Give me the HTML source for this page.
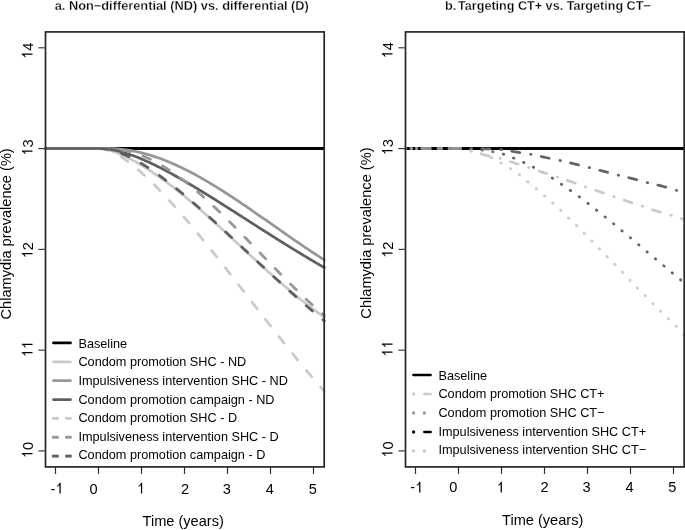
<!DOCTYPE html>
<html><head><meta charset="utf-8"><style>
html,body{margin:0;padding:0;background:#fff;overflow:hidden;}
svg{display:block;font-family:"Liberation Sans", sans-serif;will-change:transform;}
</style></head><body>
<svg width="685" height="530" viewBox="0 0 685 530">
<rect width="685" height="530" fill="#fff"/>
<line x1="45.5" y1="148.5" x2="324.2" y2="148.5" stroke="#000" stroke-width="2.9"/>
<path d="M45.50,148.50 L98.50,148.50 L99.92,148.54 L101.34,148.65 L102.76,148.82 L104.18,149.04 L105.60,149.31 L107.02,149.63 L108.44,149.99 L109.86,150.39 L111.28,150.82 L112.69,151.28 L114.11,151.76 L115.53,152.28 L116.95,152.82 L118.37,153.38 L119.79,153.97 L121.21,154.58 L122.63,155.21 L124.05,155.86 L125.47,156.52 L126.89,157.21 L128.31,157.91 L129.73,158.63 L131.15,159.36 L132.57,160.11 L133.99,160.88 L135.41,161.66 L136.83,162.46 L138.25,163.27 L139.67,164.10 L141.08,164.94 L142.50,165.79 L143.92,166.66 L145.34,167.54 L146.76,168.43 L148.18,169.34 L149.60,170.26 L151.02,171.19 L152.44,172.14 L153.86,173.09 L155.28,174.06 L156.70,175.04 L158.12,176.03 L159.54,177.03 L160.96,178.04 L162.38,179.07 L163.80,180.10 L165.22,181.14 L166.64,182.20 L168.06,183.26 L169.47,184.33 L170.89,185.42 L172.31,186.51 L173.73,187.61 L175.15,188.72 L176.57,189.84 L177.99,190.97 L179.41,192.10 L180.83,193.25 L182.25,194.40 L183.67,195.56 L185.09,196.73 L186.51,197.90 L187.93,199.09 L189.35,200.28 L190.77,201.47 L192.19,202.68 L193.61,203.89 L195.03,205.10 L196.45,206.32 L197.86,207.55 L199.28,208.78 L200.70,210.02 L202.12,211.27 L203.54,212.52 L204.96,213.77 L206.38,215.03 L207.80,216.29 L209.22,217.56 L210.64,218.83 L212.06,220.11 L213.48,221.39 L214.90,222.67 L216.32,223.96 L217.74,225.25 L219.16,226.54 L220.58,227.84 L222.00,229.13 L223.42,230.43 L224.84,231.74 L226.25,233.04 L227.67,234.35 L229.09,235.66 L230.51,236.97 L231.93,238.28 L233.35,239.59 L234.77,240.90 L236.19,242.22 L237.61,243.53 L239.03,244.85 L240.45,246.16 L241.87,247.48 L243.29,248.79 L244.71,250.11 L246.13,251.42 L247.55,252.73 L248.97,254.04 L250.39,255.35 L251.81,256.66 L253.23,257.97 L254.64,259.28 L256.06,260.58 L257.48,261.88 L258.90,263.18 L260.32,264.48 L261.74,265.77 L263.16,267.06 L264.58,268.35 L266.00,269.63 L267.42,270.91 L268.84,272.19 L270.26,273.46 L271.68,274.73 L273.10,276.00 L274.52,277.26 L275.94,278.51 L277.36,279.76 L278.78,281.01 L280.20,282.25 L281.62,283.49 L283.03,284.72 L284.45,285.94 L285.87,287.16 L287.29,288.37 L288.71,289.57 L290.13,290.77 L291.55,291.96 L292.97,293.15 L294.39,294.33 L295.81,295.50 L297.23,296.66 L298.65,297.82 L300.07,298.96 L301.49,300.10 L302.91,301.23 L304.33,302.36 L305.75,303.47 L307.17,304.57 L308.59,305.67 L310.01,306.76 L311.42,307.83 L312.84,308.90 L314.26,309.96 L315.68,311.00 L317.10,312.04 L318.52,313.07 L319.94,314.08 L321.36,315.09 L322.78,316.08 L324.20,317.07" fill="none" stroke="#cacaca" stroke-width="2.73" stroke-linecap="round" stroke-linejoin="round" />
<path d="M45.50,148.50 L98.50,148.50 L99.92,148.50 L101.34,148.50 L102.76,148.50 L104.18,148.50 L105.60,148.50 L107.02,148.51 L108.44,148.53 L109.86,148.56 L111.28,148.61 L112.69,148.66 L114.11,148.73 L115.53,148.81 L116.95,148.90 L118.37,149.01 L119.79,149.13 L121.21,149.27 L122.63,149.42 L124.05,149.58 L125.47,149.76 L126.89,149.96 L128.31,150.17 L129.73,150.39 L131.15,150.63 L132.57,150.88 L133.99,151.15 L135.41,151.43 L136.83,151.73 L138.25,152.04 L139.67,152.36 L141.08,152.70 L142.50,153.05 L143.92,153.42 L145.34,153.80 L146.76,154.19 L148.18,154.60 L149.60,155.02 L151.02,155.45 L152.44,155.90 L153.86,156.36 L155.28,156.83 L156.70,157.31 L158.12,157.81 L159.54,158.32 L160.96,158.84 L162.38,159.37 L163.80,159.92 L165.22,160.47 L166.64,161.04 L168.06,161.62 L169.47,162.21 L170.89,162.81 L172.31,163.42 L173.73,164.04 L175.15,164.68 L176.57,165.32 L177.99,165.98 L179.41,166.64 L180.83,167.31 L182.25,168.00 L183.67,168.69 L185.09,169.39 L186.51,170.11 L187.93,170.83 L189.35,171.56 L190.77,172.30 L192.19,173.05 L193.61,173.80 L195.03,174.57 L196.45,175.34 L197.86,176.12 L199.28,176.91 L200.70,177.71 L202.12,178.52 L203.54,179.33 L204.96,180.15 L206.38,180.98 L207.80,181.81 L209.22,182.65 L210.64,183.50 L212.06,184.35 L213.48,185.22 L214.90,186.08 L216.32,186.96 L217.74,187.84 L219.16,188.72 L220.58,189.61 L222.00,190.51 L223.42,191.41 L224.84,192.32 L226.25,193.23 L227.67,194.15 L229.09,195.07 L230.51,196.00 L231.93,196.93 L233.35,197.87 L234.77,198.81 L236.19,199.75 L237.61,200.70 L239.03,201.65 L240.45,202.60 L241.87,203.56 L243.29,204.53 L244.71,205.49 L246.13,206.46 L247.55,207.43 L248.97,208.40 L250.39,209.38 L251.81,210.36 L253.23,211.34 L254.64,212.32 L256.06,213.30 L257.48,214.29 L258.90,215.28 L260.32,216.27 L261.74,217.26 L263.16,218.25 L264.58,219.24 L266.00,220.24 L267.42,221.23 L268.84,222.23 L270.26,223.22 L271.68,224.22 L273.10,225.21 L274.52,226.21 L275.94,227.20 L277.36,228.20 L278.78,229.19 L280.20,230.19 L281.62,231.18 L283.03,232.17 L284.45,233.16 L285.87,234.15 L287.29,235.14 L288.71,236.13 L290.13,237.11 L291.55,238.09 L292.97,239.08 L294.39,240.05 L295.81,241.03 L297.23,242.00 L298.65,242.98 L300.07,243.94 L301.49,244.91 L302.91,245.87 L304.33,246.83 L305.75,247.79 L307.17,248.74 L308.59,249.69 L310.01,250.63 L311.42,251.57 L312.84,252.51 L314.26,253.44 L315.68,254.37 L317.10,255.29 L318.52,256.21 L319.94,257.12 L321.36,258.03 L322.78,258.93 L324.20,259.83" fill="none" stroke="#979797" stroke-width="2.73" stroke-linecap="round" stroke-linejoin="round" />
<path d="M45.50,148.50 L98.50,148.50 L99.92,148.52 L101.34,148.56 L102.76,148.63 L104.18,148.74 L105.60,148.87 L107.02,149.02 L108.44,149.20 L109.86,149.41 L111.28,149.64 L112.69,149.89 L114.11,150.16 L115.53,150.46 L116.95,150.78 L118.37,151.12 L119.79,151.47 L121.21,151.85 L122.63,152.24 L124.05,152.66 L125.47,153.08 L126.89,153.53 L128.31,153.99 L129.73,154.47 L131.15,154.97 L132.57,155.47 L133.99,156.00 L135.41,156.53 L136.83,157.08 L138.25,157.64 L139.67,158.22 L141.08,158.81 L142.50,159.41 L143.92,160.02 L145.34,160.64 L146.76,161.27 L148.18,161.92 L149.60,162.57 L151.02,163.23 L152.44,163.90 L153.86,164.59 L155.28,165.28 L156.70,165.98 L158.12,166.68 L159.54,167.40 L160.96,168.12 L162.38,168.85 L163.80,169.59 L165.22,170.34 L166.64,171.09 L168.06,171.85 L169.47,172.62 L170.89,173.39 L172.31,174.17 L173.73,174.95 L175.15,175.74 L176.57,176.54 L177.99,177.34 L179.41,178.14 L180.83,178.95 L182.25,179.77 L183.67,180.59 L185.09,181.41 L186.51,182.24 L187.93,183.08 L189.35,183.91 L190.77,184.75 L192.19,185.60 L193.61,186.45 L195.03,187.30 L196.45,188.16 L197.86,189.01 L199.28,189.88 L200.70,190.74 L202.12,191.61 L203.54,192.48 L204.96,193.35 L206.38,194.23 L207.80,195.10 L209.22,195.98 L210.64,196.87 L212.06,197.75 L213.48,198.64 L214.90,199.53 L216.32,200.42 L217.74,201.31 L219.16,202.20 L220.58,203.10 L222.00,203.99 L223.42,204.89 L224.84,205.79 L226.25,206.69 L227.67,207.59 L229.09,208.49 L230.51,209.40 L231.93,210.30 L233.35,211.21 L234.77,212.11 L236.19,213.02 L237.61,213.92 L239.03,214.83 L240.45,215.74 L241.87,216.64 L243.29,217.55 L244.71,218.46 L246.13,219.37 L247.55,220.27 L248.97,221.18 L250.39,222.09 L251.81,223.00 L253.23,223.90 L254.64,224.81 L256.06,225.72 L257.48,226.62 L258.90,227.53 L260.32,228.43 L261.74,229.34 L263.16,230.24 L264.58,231.14 L266.00,232.04 L267.42,232.95 L268.84,233.84 L270.26,234.74 L271.68,235.64 L273.10,236.54 L274.52,237.43 L275.94,238.33 L277.36,239.22 L278.78,240.11 L280.20,241.00 L281.62,241.89 L283.03,242.77 L284.45,243.66 L285.87,244.54 L287.29,245.42 L288.71,246.30 L290.13,247.18 L291.55,248.05 L292.97,248.93 L294.39,249.80 L295.81,250.67 L297.23,251.54 L298.65,252.40 L300.07,253.26 L301.49,254.12 L302.91,254.98 L304.33,255.84 L305.75,256.69 L307.17,257.54 L308.59,258.39 L310.01,259.24 L311.42,260.08 L312.84,260.92 L314.26,261.76 L315.68,262.59 L317.10,263.42 L318.52,264.25 L319.94,265.08 L321.36,265.90 L322.78,266.72 L324.20,267.53" fill="none" stroke="#5f5f5f" stroke-width="2.73" stroke-linecap="round" stroke-linejoin="round" />
<path d="M98.50,148.50 L99.92,148.54 L101.34,148.67 L102.76,148.88 L104.18,149.16 L105.60,149.51 L107.02,149.92 L108.44,150.40 L109.86,150.93 L111.28,151.52 L112.69,152.15 L114.11,152.84 L115.53,153.57 L116.95,154.34 L118.37,155.15 L119.79,156.01 L121.21,156.89 L122.63,157.82 L124.05,158.77 L125.47,159.76 L126.89,160.78 L128.31,161.82 L129.73,162.89 L131.15,163.99 L132.57,165.12 L133.99,166.27 L135.41,167.44 L136.83,168.63 L138.25,169.84 L139.67,171.08 L141.08,172.33 L142.50,173.61 L143.92,174.90 L145.34,176.21 L146.76,177.54 L148.18,178.88 L149.60,180.24 L151.02,181.62 L152.44,183.01 L153.86,184.41 L155.28,185.83 L156.70,187.27 L158.12,188.72 L159.54,190.18 L160.96,191.65 L162.38,193.14 L163.80,194.64 L165.22,196.15 L166.64,197.67 L168.06,199.21 L169.47,200.75 L170.89,202.31 L172.31,203.87 L173.73,205.45 L175.15,207.03 L176.57,208.63 L177.99,210.24 L179.41,211.85 L180.83,213.48 L182.25,215.11 L183.67,216.75 L185.09,218.40 L186.51,220.06 L187.93,221.72 L189.35,223.40 L190.77,225.08 L192.19,226.77 L193.61,228.46 L195.03,230.17 L196.45,231.88 L197.86,233.59 L199.28,235.32 L200.70,237.05 L202.12,238.78 L203.54,240.52 L204.96,242.27 L206.38,244.02 L207.80,245.78 L209.22,247.54 L210.64,249.31 L212.06,251.08 L213.48,252.85 L214.90,254.63 L216.32,256.42 L217.74,258.21 L219.16,260.00 L220.58,261.80 L222.00,263.60 L223.42,265.40 L224.84,267.21 L226.25,269.02 L227.67,270.83 L229.09,272.64 L230.51,274.46 L231.93,276.28 L233.35,278.10 L234.77,279.92 L236.19,281.75 L237.61,283.58 L239.03,285.40 L240.45,287.23 L241.87,289.06 L243.29,290.89 L244.71,292.72 L246.13,294.56 L247.55,296.39 L248.97,298.22 L250.39,300.05 L251.81,301.89 L253.23,303.72 L254.64,305.55 L256.06,307.38 L257.48,309.21 L258.90,311.04 L260.32,312.87 L261.74,314.69 L263.16,316.52 L264.58,318.34 L266.00,320.16 L267.42,321.98 L268.84,323.79 L270.26,325.61 L271.68,327.42 L273.10,329.23 L274.52,331.03 L275.94,332.84 L277.36,334.64 L278.78,336.43 L280.20,338.22 L281.62,340.01 L283.03,341.79 L284.45,343.57 L285.87,345.35 L287.29,347.12 L288.71,348.89 L290.13,350.65 L291.55,352.41 L292.97,354.16 L294.39,355.90 L295.81,357.64 L297.23,359.38 L298.65,361.11 L300.07,362.83 L301.49,364.55 L302.91,366.25 L304.33,367.96 L305.75,369.65 L307.17,371.34 L308.59,373.03 L310.01,374.70 L311.42,376.37 L312.84,378.03 L314.26,379.68 L315.68,381.33 L317.10,382.96 L318.52,384.59 L319.94,386.21 L321.36,387.82 L322.78,389.42 L324.20,391.02" fill="none" stroke="#cacaca" stroke-width="2.73" stroke-linecap="round" stroke-linejoin="round" stroke-dasharray="8.19 13.65" stroke-dashoffset="19.51"/>
<path d="M98.50,148.50 L99.92,148.50 L101.34,148.50 L102.76,148.50 L104.18,148.50 L105.60,148.50 L107.02,148.52 L108.44,148.56 L109.86,148.61 L111.28,148.68 L112.69,148.77 L114.11,148.88 L115.53,149.01 L116.95,149.16 L118.37,149.34 L119.79,149.53 L121.21,149.75 L122.63,150.00 L124.05,150.26 L125.47,150.55 L126.89,150.86 L128.31,151.20 L129.73,151.56 L131.15,151.94 L132.57,152.35 L133.99,152.77 L135.41,153.22 L136.83,153.70 L138.25,154.19 L139.67,154.71 L141.08,155.25 L142.50,155.82 L143.92,156.40 L145.34,157.00 L146.76,157.63 L148.18,158.28 L149.60,158.95 L151.02,159.63 L152.44,160.34 L153.86,161.07 L155.28,161.82 L156.70,162.59 L158.12,163.37 L159.54,164.18 L160.96,165.00 L162.38,165.84 L163.80,166.70 L165.22,167.58 L166.64,168.48 L168.06,169.39 L169.47,170.32 L170.89,171.27 L172.31,172.23 L173.73,173.21 L175.15,174.21 L176.57,175.22 L177.99,176.25 L179.41,177.29 L180.83,178.35 L182.25,179.42 L183.67,180.50 L185.09,181.60 L186.51,182.72 L187.93,183.85 L189.35,184.99 L190.77,186.14 L192.19,187.31 L193.61,188.49 L195.03,189.68 L196.45,190.89 L197.86,192.10 L199.28,193.33 L200.70,194.57 L202.12,195.82 L203.54,197.08 L204.96,198.35 L206.38,199.63 L207.80,200.92 L209.22,202.22 L210.64,203.53 L212.06,204.85 L213.48,206.18 L214.90,207.51 L216.32,208.86 L217.74,210.21 L219.16,211.57 L220.58,212.94 L222.00,214.32 L223.42,215.70 L224.84,217.09 L226.25,218.48 L227.67,219.89 L229.09,221.29 L230.51,222.71 L231.93,224.13 L233.35,225.55 L234.77,226.98 L236.19,228.41 L237.61,229.85 L239.03,231.29 L240.45,232.74 L241.87,234.19 L243.29,235.64 L244.71,237.10 L246.13,238.56 L247.55,240.02 L248.97,241.48 L250.39,242.95 L251.81,244.41 L253.23,245.88 L254.64,247.35 L256.06,248.82 L257.48,250.29 L258.90,251.77 L260.32,253.24 L261.74,254.71 L263.16,256.18 L264.58,257.65 L266.00,259.12 L267.42,260.59 L268.84,262.06 L270.26,263.52 L271.68,264.98 L273.10,266.45 L274.52,267.90 L275.94,269.36 L277.36,270.81 L278.78,272.26 L280.20,273.71 L281.62,275.15 L283.03,276.59 L284.45,278.02 L285.87,279.45 L287.29,280.87 L288.71,282.29 L290.13,283.70 L291.55,285.11 L292.97,286.51 L294.39,287.91 L295.81,289.30 L297.23,290.68 L298.65,292.06 L300.07,293.42 L301.49,294.78 L302.91,296.14 L304.33,297.48 L305.75,298.82 L307.17,300.14 L308.59,301.46 L310.01,302.77 L311.42,304.07 L312.84,305.36 L314.26,306.64 L315.68,307.91 L317.10,309.17 L318.52,310.42 L319.94,311.66 L321.36,312.89 L322.78,314.10 L324.20,315.30" fill="none" stroke="#979797" stroke-width="2.73" stroke-linecap="round" stroke-linejoin="round" stroke-dasharray="8.19 13.65" stroke-dashoffset="20.08"/>
<path d="M98.50,148.50 L99.92,148.52 L101.34,148.59 L102.76,148.69 L104.18,148.84 L105.60,149.03 L107.02,149.25 L108.44,149.51 L109.86,149.80 L111.28,150.13 L112.69,150.49 L114.11,150.89 L115.53,151.31 L116.95,151.76 L118.37,152.25 L119.79,152.76 L121.21,153.30 L122.63,153.86 L124.05,154.45 L125.47,155.06 L126.89,155.70 L128.31,156.36 L129.73,157.05 L131.15,157.75 L132.57,158.48 L133.99,159.23 L135.41,160.00 L136.83,160.78 L138.25,161.59 L139.67,162.41 L141.08,163.25 L142.50,164.11 L143.92,164.99 L145.34,165.88 L146.76,166.78 L148.18,167.71 L149.60,168.64 L151.02,169.59 L152.44,170.56 L153.86,171.54 L155.28,172.53 L156.70,173.53 L158.12,174.55 L159.54,175.58 L160.96,176.61 L162.38,177.67 L163.80,178.73 L165.22,179.80 L166.64,180.88 L168.06,181.98 L169.47,183.08 L170.89,184.19 L172.31,185.31 L173.73,186.44 L175.15,187.58 L176.57,188.73 L177.99,189.89 L179.41,191.05 L180.83,192.22 L182.25,193.40 L183.67,194.58 L185.09,195.78 L186.51,196.98 L187.93,198.18 L189.35,199.39 L190.77,200.61 L192.19,201.84 L193.61,203.07 L195.03,204.30 L196.45,205.54 L197.86,206.79 L199.28,208.04 L200.70,209.29 L202.12,210.55 L203.54,211.82 L204.96,213.09 L206.38,214.36 L207.80,215.64 L209.22,216.92 L210.64,218.20 L212.06,219.49 L213.48,220.78 L214.90,222.07 L216.32,223.37 L217.74,224.67 L219.16,225.97 L220.58,227.27 L222.00,228.58 L223.42,229.89 L224.84,231.20 L226.25,232.52 L227.67,233.83 L229.09,235.15 L230.51,236.47 L231.93,237.79 L233.35,239.11 L234.77,240.43 L236.19,241.75 L237.61,243.08 L239.03,244.40 L240.45,245.73 L241.87,247.05 L243.29,248.38 L244.71,249.70 L246.13,251.03 L247.55,252.36 L248.97,253.68 L250.39,255.01 L251.81,256.34 L253.23,257.66 L254.64,258.99 L256.06,260.31 L257.48,261.63 L258.90,262.95 L260.32,264.28 L261.74,265.59 L263.16,266.91 L264.58,268.23 L266.00,269.55 L267.42,270.86 L268.84,272.17 L270.26,273.48 L271.68,274.79 L273.10,276.10 L274.52,277.40 L275.94,278.70 L277.36,280.00 L278.78,281.30 L280.20,282.59 L281.62,283.88 L283.03,285.17 L284.45,286.45 L285.87,287.74 L287.29,289.01 L288.71,290.29 L290.13,291.56 L291.55,292.83 L292.97,294.10 L294.39,295.36 L295.81,296.61 L297.23,297.87 L298.65,299.12 L300.07,300.36 L301.49,301.60 L302.91,302.84 L304.33,304.07 L305.75,305.29 L307.17,306.52 L308.59,307.73 L310.01,308.95 L311.42,310.15 L312.84,311.36 L314.26,312.55 L315.68,313.74 L317.10,314.93 L318.52,316.11 L319.94,317.28 L321.36,318.45 L322.78,319.62 L324.20,320.77" fill="none" stroke="#5f5f5f" stroke-width="2.73" stroke-linecap="round" stroke-linejoin="round" stroke-dasharray="8.19 13.65" stroke-dashoffset="19.96"/>
<line x1="405.5" y1="148.5" x2="684.2" y2="148.5" stroke="#000" stroke-width="2.9"/>
<path d="M405.50,148.50 L465.00,148.50 L466.38,148.54 L467.76,148.60 L469.14,148.68 L470.51,148.77 L471.89,148.87 L473.27,148.99 L474.65,149.12 L476.03,149.27 L477.41,149.42 L478.79,149.59 L480.16,149.76 L481.54,149.95 L482.92,150.14 L484.30,150.34 L485.68,150.54 L487.06,150.75 L488.44,150.97 L489.82,151.18 L491.19,151.41 L492.57,151.63 L493.95,151.86 L495.33,152.13 L496.71,152.42 L498.09,152.74 L499.47,153.08 L500.84,153.45 L502.22,153.83 L503.60,154.23 L504.98,154.66 L506.36,155.14 L507.74,155.65 L509.12,156.19 L510.49,156.75 L511.87,157.32 L513.25,157.89 L514.63,158.46 L516.01,159.03 L517.39,159.62 L518.77,160.22 L520.14,160.83 L521.52,161.45 L522.90,162.08 L524.28,162.72 L525.66,163.38 L527.04,164.04 L528.42,164.72 L529.79,165.41 L531.17,166.10 L532.55,166.81 L533.93,167.52 L535.31,168.24 L536.69,168.96 L538.07,169.70 L539.45,170.44 L540.82,171.20 L542.20,171.97 L543.58,172.76 L544.96,173.57 L546.34,174.39 L547.72,175.23 L549.10,176.08 L550.47,176.94 L551.85,177.82 L553.23,178.71 L554.61,179.62 L555.99,180.55 L557.37,181.49 L558.75,182.44 L560.12,183.39 L561.50,184.34 L562.88,185.29 L564.26,186.23 L565.64,187.19 L567.02,188.14 L568.40,189.10 L569.77,190.06 L571.15,191.03 L572.53,192.00 L573.91,192.97 L575.29,193.94 L576.67,194.92 L578.05,195.91 L579.43,196.92 L580.80,197.94 L582.18,198.96 L583.56,200.00 L584.94,201.05 L586.32,202.10 L587.70,203.17 L589.08,204.24 L590.45,205.32 L591.83,206.41 L593.21,207.51 L594.59,208.60 L595.97,209.70 L597.35,210.79 L598.73,211.88 L600.10,212.96 L601.48,214.05 L602.86,215.14 L604.24,216.23 L605.62,217.34 L607.00,218.45 L608.38,219.56 L609.75,220.68 L611.13,221.81 L612.51,222.94 L613.89,224.07 L615.27,225.22 L616.65,226.38 L618.03,227.55 L619.41,228.71 L620.78,229.87 L622.16,231.02 L623.54,232.14 L624.92,233.26 L626.30,234.37 L627.68,235.48 L629.06,236.61 L630.43,237.74 L631.81,238.91 L633.19,240.08 L634.57,241.27 L635.95,242.47 L637.33,243.65 L638.71,244.83 L640.08,246.00 L641.46,247.17 L642.84,248.32 L644.22,249.48 L645.60,250.64 L646.98,251.80 L648.36,252.96 L649.73,254.12 L651.11,255.29 L652.49,256.45 L653.87,257.61 L655.25,258.76 L656.63,259.90 L658.01,261.03 L659.38,262.16 L660.76,263.29 L662.14,264.43 L663.52,265.57 L664.90,266.72 L666.28,267.88 L667.66,269.04 L669.04,270.20 L670.41,271.37 L671.79,272.53 L673.17,273.68 L674.55,274.84 L675.93,275.99 L677.31,277.14 L678.69,278.29 L680.06,279.44 L681.44,280.58 L682.82,281.73 L684.20,282.87" fill="none" stroke="#646464" stroke-width="2.73" stroke-linecap="round" stroke-linejoin="round" stroke-dasharray="0.50 10.42" stroke-dashoffset="0.01"/>
<path d="M405.50,148.50 L460.00,148.50 L461.41,148.64 L462.82,148.82 L464.23,149.03 L465.64,149.28 L467.05,149.55 L468.46,149.85 L469.87,150.19 L471.28,150.54 L472.69,150.93 L474.10,151.33 L475.51,151.76 L476.92,152.21 L478.33,152.68 L479.74,153.16 L481.15,153.66 L482.56,154.18 L483.97,154.71 L485.38,155.24 L486.79,155.79 L488.20,156.35 L489.61,156.91 L491.02,157.48 L492.43,158.07 L493.84,158.74 L495.25,159.50 L496.66,160.31 L498.07,161.16 L499.48,162.02 L500.89,162.86 L502.30,163.68 L503.71,164.51 L505.12,165.34 L506.53,166.19 L507.94,167.05 L509.35,167.94 L510.76,168.84 L512.17,169.77 L513.58,170.71 L514.99,171.68 L516.40,172.67 L517.81,173.68 L519.22,174.72 L520.63,175.79 L522.04,176.90 L523.45,178.05 L524.86,179.21 L526.27,180.39 L527.68,181.56 L529.09,182.72 L530.50,183.89 L531.91,185.06 L533.32,186.24 L534.73,187.42 L536.14,188.60 L537.55,189.78 L538.96,190.95 L540.37,192.13 L541.78,193.31 L543.19,194.50 L544.60,195.72 L546.01,196.96 L547.42,198.22 L548.83,199.50 L550.24,200.79 L551.65,202.07 L553.06,203.35 L554.47,204.60 L555.88,205.85 L557.29,207.10 L558.70,208.36 L560.11,209.66 L561.52,211.00 L562.93,212.41 L564.34,213.86 L565.75,215.32 L567.16,216.77 L568.57,218.17 L569.98,219.52 L571.39,220.84 L572.81,222.14 L574.22,223.44 L575.63,224.76 L577.04,226.12 L578.45,227.51 L579.86,228.91 L581.27,230.33 L582.68,231.76 L584.09,233.18 L585.50,234.60 L586.91,236.03 L588.32,237.46 L589.73,238.89 L591.14,240.32 L592.55,241.76 L593.96,243.20 L595.37,244.65 L596.78,246.10 L598.19,247.55 L599.60,249.00 L601.01,250.45 L602.42,251.90 L603.83,253.35 L605.24,254.80 L606.65,256.24 L608.06,257.66 L609.47,259.07 L610.88,260.48 L612.29,261.88 L613.70,263.29 L615.11,264.71 L616.52,266.14 L617.93,267.57 L619.34,269.01 L620.75,270.47 L622.16,271.94 L623.57,273.45 L624.98,275.00 L626.39,276.56 L627.80,278.12 L629.21,279.66 L630.62,281.17 L632.03,282.67 L633.44,284.16 L634.85,285.62 L636.26,287.06 L637.67,288.46 L639.08,289.81 L640.49,291.11 L641.90,292.40 L643.31,293.70 L644.72,295.03 L646.13,296.43 L647.54,297.87 L648.95,299.34 L650.36,300.83 L651.77,302.32 L653.18,303.79 L654.59,305.25 L656.00,306.71 L657.41,308.17 L658.82,309.61 L660.23,311.03 L661.64,312.42 L663.05,313.80 L664.46,315.16 L665.87,316.50 L667.28,317.84 L668.69,319.16 L670.10,320.44 L671.51,321.69 L672.92,322.95 L674.33,324.24 L675.74,325.62 L677.15,327.14 L678.56,328.83 L679.97,330.62 L681.38,332.37 L682.79,333.99 L684.20,335.39" fill="none" stroke="#cacaca" stroke-width="2.73" stroke-linecap="round" stroke-linejoin="round" stroke-dasharray="0.50 10.42" stroke-dashoffset="0.11"/>
<path d="M405.50,148.50 L470.00,148.50 L471.35,148.50 L472.69,148.51 L474.04,148.52 L475.39,148.54 L476.74,148.56 L478.08,148.59 L479.43,148.62 L480.78,148.65 L482.12,148.69 L483.47,148.73 L484.82,148.77 L486.17,148.82 L487.51,148.88 L488.86,148.93 L490.21,148.99 L491.55,149.06 L492.90,149.12 L494.25,149.19 L495.60,149.26 L496.94,149.34 L498.29,149.42 L499.64,149.50 L500.98,149.58 L502.33,149.68 L503.68,149.82 L505.03,150.00 L506.37,150.21 L507.72,150.45 L509.07,150.70 L510.42,150.96 L511.76,151.23 L513.11,151.49 L514.46,151.75 L515.80,151.99 L517.15,152.20 L518.50,152.41 L519.85,152.61 L521.19,152.81 L522.54,153.00 L523.89,153.20 L525.23,153.40 L526.58,153.60 L527.93,153.81 L529.28,154.03 L530.62,154.27 L531.97,154.52 L533.32,154.78 L534.66,155.06 L536.01,155.35 L537.36,155.65 L538.71,155.95 L540.05,156.26 L541.40,156.57 L542.75,156.87 L544.09,157.17 L545.44,157.47 L546.79,157.75 L548.14,158.03 L549.48,158.31 L550.83,158.59 L552.18,158.86 L553.52,159.14 L554.87,159.42 L556.22,159.70 L557.57,159.99 L558.91,160.28 L560.26,160.58 L561.61,160.88 L562.95,161.19 L564.30,161.50 L565.65,161.81 L567.00,162.13 L568.34,162.44 L569.69,162.76 L571.04,163.08 L572.38,163.40 L573.73,163.73 L575.08,164.06 L576.43,164.39 L577.77,164.72 L579.12,165.05 L580.47,165.38 L581.82,165.72 L583.16,166.06 L584.51,166.39 L585.86,166.73 L587.20,167.07 L588.55,167.42 L589.90,167.76 L591.25,168.10 L592.59,168.45 L593.94,168.79 L595.29,169.13 L596.63,169.48 L597.98,169.83 L599.33,170.17 L600.68,170.52 L602.02,170.86 L603.37,171.21 L604.72,171.56 L606.06,171.91 L607.41,172.26 L608.76,172.62 L610.11,172.98 L611.45,173.34 L612.80,173.70 L614.15,174.06 L615.49,174.42 L616.84,174.77 L618.19,175.12 L619.54,175.46 L620.88,175.79 L622.23,176.12 L623.58,176.44 L624.92,176.76 L626.27,177.08 L627.62,177.40 L628.97,177.72 L630.31,178.05 L631.66,178.38 L633.01,178.72 L634.35,179.08 L635.70,179.44 L637.05,179.81 L638.40,180.19 L639.74,180.57 L641.09,180.95 L642.44,181.33 L643.78,181.71 L645.13,182.08 L646.48,182.44 L647.83,182.78 L649.17,183.11 L650.52,183.44 L651.87,183.75 L653.22,184.06 L654.56,184.36 L655.91,184.66 L657.26,184.97 L658.60,185.28 L659.95,185.61 L661.30,185.94 L662.65,186.29 L663.99,186.66 L665.34,187.04 L666.69,187.43 L668.03,187.84 L669.38,188.25 L670.73,188.66 L672.08,189.07 L673.42,189.48 L674.77,189.87 L676.12,190.26 L677.46,190.64 L678.81,191.01 L680.16,191.38 L681.51,191.74 L682.85,192.10 L684.20,192.45" fill="none" stroke="#646464" stroke-width="2.73" stroke-linecap="round" stroke-linejoin="round" stroke-dasharray="0.50 10.42 8.19 10.92" stroke-dashoffset="24.68"/>
<path d="M405.50,148.50 L460.00,148.50 L461.41,148.83 L462.82,149.17 L464.23,149.51 L465.64,149.85 L467.05,150.20 L468.46,150.55 L469.87,150.91 L471.28,151.27 L472.69,151.64 L474.10,152.02 L475.51,152.41 L476.92,152.81 L478.33,153.21 L479.74,153.61 L481.15,154.01 L482.56,154.40 L483.97,154.78 L485.38,155.15 L486.79,155.50 L488.20,155.83 L489.61,156.14 L491.02,156.44 L492.43,156.73 L493.84,157.02 L495.25,157.31 L496.66,157.61 L498.07,157.93 L499.48,158.27 L500.89,158.63 L502.30,159.03 L503.71,159.46 L505.12,159.91 L506.53,160.38 L507.94,160.86 L509.35,161.35 L510.76,161.83 L512.17,162.31 L513.58,162.78 L514.99,163.22 L516.40,163.66 L517.81,164.08 L519.22,164.50 L520.63,164.91 L522.04,165.33 L523.45,165.75 L524.86,166.17 L526.27,166.60 L527.68,167.04 L529.09,167.50 L530.50,167.97 L531.91,168.45 L533.32,168.95 L534.73,169.46 L536.14,169.97 L537.55,170.48 L538.96,170.99 L540.37,171.49 L541.78,171.98 L543.19,172.47 L544.60,172.94 L546.01,173.40 L547.42,173.85 L548.83,174.30 L550.24,174.75 L551.65,175.20 L553.06,175.65 L554.47,176.11 L555.88,176.57 L557.29,177.03 L558.70,177.50 L560.11,177.98 L561.52,178.45 L562.93,178.93 L564.34,179.41 L565.75,179.89 L567.16,180.37 L568.57,180.85 L569.98,181.34 L571.39,181.83 L572.81,182.32 L574.22,182.81 L575.63,183.30 L577.04,183.79 L578.45,184.28 L579.86,184.78 L581.27,185.27 L582.68,185.77 L584.09,186.26 L585.50,186.76 L586.91,187.26 L588.32,187.75 L589.73,188.25 L591.14,188.75 L592.55,189.24 L593.96,189.74 L595.37,190.24 L596.78,190.73 L598.19,191.23 L599.60,191.73 L601.01,192.22 L602.42,192.71 L603.83,193.21 L605.24,193.70 L606.65,194.19 L608.06,194.68 L609.47,195.17 L610.88,195.66 L612.29,196.15 L613.70,196.63 L615.11,197.11 L616.52,197.60 L617.93,198.08 L619.34,198.57 L620.75,199.05 L622.16,199.53 L623.57,200.01 L624.98,200.49 L626.39,200.96 L627.80,201.43 L629.21,201.90 L630.62,202.36 L632.03,202.82 L633.44,203.27 L634.85,203.72 L636.26,204.17 L637.67,204.62 L639.08,205.08 L640.49,205.54 L641.90,206.00 L643.31,206.47 L644.72,206.96 L646.13,207.45 L647.54,207.95 L648.95,208.46 L650.36,208.96 L651.77,209.45 L653.18,209.94 L654.59,210.42 L656.00,210.88 L657.41,211.32 L658.82,211.74 L660.23,212.15 L661.64,212.55 L663.05,212.94 L664.46,213.33 L665.87,213.72 L667.28,214.11 L668.69,214.51 L670.10,214.93 L671.51,215.36 L672.92,215.80 L674.33,216.25 L675.74,216.70 L677.15,217.16 L678.56,217.63 L679.97,218.11 L681.38,218.59 L682.79,219.08 L684.20,219.57" fill="none" stroke="#cacaca" stroke-width="2.73" stroke-linecap="round" stroke-linejoin="round" stroke-dasharray="0.50 10.42 8.19 10.92" stroke-dashoffset="24.44"/>
<clipPath id="fc"><rect x="400" y="140" width="62" height="20"/></clipPath>
<g clip-path="url(#fc)"><path d="M405.50,148.50 L460.00,148.50 L461.41,148.64 L462.82,148.82 L464.23,149.03 L465.64,149.28 L467.05,149.55 L468.46,149.85 L469.87,150.19 L471.28,150.54 L472.69,150.93 L474.10,151.33 L475.51,151.76 L476.92,152.21 L478.33,152.68 L479.74,153.16 L481.15,153.66 L482.56,154.18 L483.97,154.71 L485.38,155.24 L486.79,155.79 L488.20,156.35 L489.61,156.91 L491.02,157.48 L492.43,158.07 L493.84,158.74 L495.25,159.50 L496.66,160.31 L498.07,161.16 L499.48,162.02 L500.89,162.86 L502.30,163.68 L503.71,164.51 L505.12,165.34 L506.53,166.19 L507.94,167.05 L509.35,167.94 L510.76,168.84 L512.17,169.77 L513.58,170.71 L514.99,171.68 L516.40,172.67 L517.81,173.68 L519.22,174.72 L520.63,175.79 L522.04,176.90 L523.45,178.05 L524.86,179.21 L526.27,180.39 L527.68,181.56 L529.09,182.72 L530.50,183.89 L531.91,185.06 L533.32,186.24 L534.73,187.42 L536.14,188.60 L537.55,189.78 L538.96,190.95 L540.37,192.13 L541.78,193.31 L543.19,194.50 L544.60,195.72 L546.01,196.96 L547.42,198.22 L548.83,199.50 L550.24,200.79 L551.65,202.07 L553.06,203.35 L554.47,204.60 L555.88,205.85 L557.29,207.10 L558.70,208.36 L560.11,209.66 L561.52,211.00 L562.93,212.41 L564.34,213.86 L565.75,215.32 L567.16,216.77 L568.57,218.17 L569.98,219.52 L571.39,220.84 L572.81,222.14 L574.22,223.44 L575.63,224.76 L577.04,226.12 L578.45,227.51 L579.86,228.91 L581.27,230.33 L582.68,231.76 L584.09,233.18 L585.50,234.60 L586.91,236.03 L588.32,237.46 L589.73,238.89 L591.14,240.32 L592.55,241.76 L593.96,243.20 L595.37,244.65 L596.78,246.10 L598.19,247.55 L599.60,249.00 L601.01,250.45 L602.42,251.90 L603.83,253.35 L605.24,254.80 L606.65,256.24 L608.06,257.66 L609.47,259.07 L610.88,260.48 L612.29,261.88 L613.70,263.29 L615.11,264.71 L616.52,266.14 L617.93,267.57 L619.34,269.01 L620.75,270.47 L622.16,271.94 L623.57,273.45 L624.98,275.00 L626.39,276.56 L627.80,278.12 L629.21,279.66 L630.62,281.17 L632.03,282.67 L633.44,284.16 L634.85,285.62 L636.26,287.06 L637.67,288.46 L639.08,289.81 L640.49,291.11 L641.90,292.40 L643.31,293.70 L644.72,295.03 L646.13,296.43 L647.54,297.87 L648.95,299.34 L650.36,300.83 L651.77,302.32 L653.18,303.79 L654.59,305.25 L656.00,306.71 L657.41,308.17 L658.82,309.61 L660.23,311.03 L661.64,312.42 L663.05,313.80 L664.46,315.16 L665.87,316.50 L667.28,317.84 L668.69,319.16 L670.10,320.44 L671.51,321.69 L672.92,322.95 L674.33,324.24 L675.74,325.62 L677.15,327.14 L678.56,328.83 L679.97,330.62 L681.38,332.37 L682.79,333.99 L684.20,335.39" fill="none" stroke="#8c8c8c" stroke-width="2.73" stroke-linecap="round" stroke-linejoin="round" stroke-dasharray="0.50 10.42" stroke-dashoffset="0.11"/><path d="M405.50,148.50 L460.00,148.50 L461.41,148.83 L462.82,149.17 L464.23,149.51 L465.64,149.85 L467.05,150.20 L468.46,150.55 L469.87,150.91 L471.28,151.27 L472.69,151.64 L474.10,152.02 L475.51,152.41 L476.92,152.81 L478.33,153.21 L479.74,153.61 L481.15,154.01 L482.56,154.40 L483.97,154.78 L485.38,155.15 L486.79,155.50 L488.20,155.83 L489.61,156.14 L491.02,156.44 L492.43,156.73 L493.84,157.02 L495.25,157.31 L496.66,157.61 L498.07,157.93 L499.48,158.27 L500.89,158.63 L502.30,159.03 L503.71,159.46 L505.12,159.91 L506.53,160.38 L507.94,160.86 L509.35,161.35 L510.76,161.83 L512.17,162.31 L513.58,162.78 L514.99,163.22 L516.40,163.66 L517.81,164.08 L519.22,164.50 L520.63,164.91 L522.04,165.33 L523.45,165.75 L524.86,166.17 L526.27,166.60 L527.68,167.04 L529.09,167.50 L530.50,167.97 L531.91,168.45 L533.32,168.95 L534.73,169.46 L536.14,169.97 L537.55,170.48 L538.96,170.99 L540.37,171.49 L541.78,171.98 L543.19,172.47 L544.60,172.94 L546.01,173.40 L547.42,173.85 L548.83,174.30 L550.24,174.75 L551.65,175.20 L553.06,175.65 L554.47,176.11 L555.88,176.57 L557.29,177.03 L558.70,177.50 L560.11,177.98 L561.52,178.45 L562.93,178.93 L564.34,179.41 L565.75,179.89 L567.16,180.37 L568.57,180.85 L569.98,181.34 L571.39,181.83 L572.81,182.32 L574.22,182.81 L575.63,183.30 L577.04,183.79 L578.45,184.28 L579.86,184.78 L581.27,185.27 L582.68,185.77 L584.09,186.26 L585.50,186.76 L586.91,187.26 L588.32,187.75 L589.73,188.25 L591.14,188.75 L592.55,189.24 L593.96,189.74 L595.37,190.24 L596.78,190.73 L598.19,191.23 L599.60,191.73 L601.01,192.22 L602.42,192.71 L603.83,193.21 L605.24,193.70 L606.65,194.19 L608.06,194.68 L609.47,195.17 L610.88,195.66 L612.29,196.15 L613.70,196.63 L615.11,197.11 L616.52,197.60 L617.93,198.08 L619.34,198.57 L620.75,199.05 L622.16,199.53 L623.57,200.01 L624.98,200.49 L626.39,200.96 L627.80,201.43 L629.21,201.90 L630.62,202.36 L632.03,202.82 L633.44,203.27 L634.85,203.72 L636.26,204.17 L637.67,204.62 L639.08,205.08 L640.49,205.54 L641.90,206.00 L643.31,206.47 L644.72,206.96 L646.13,207.45 L647.54,207.95 L648.95,208.46 L650.36,208.96 L651.77,209.45 L653.18,209.94 L654.59,210.42 L656.00,210.88 L657.41,211.32 L658.82,211.74 L660.23,212.15 L661.64,212.55 L663.05,212.94 L664.46,213.33 L665.87,213.72 L667.28,214.11 L668.69,214.51 L670.10,214.93 L671.51,215.36 L672.92,215.80 L674.33,216.25 L675.74,216.70 L677.15,217.16 L678.56,217.63 L679.97,218.11 L681.38,218.59 L682.79,219.08 L684.20,219.57" fill="none" stroke="#8c8c8c" stroke-width="2.73" stroke-linecap="round" stroke-linejoin="round" stroke-dasharray="0.50 10.42 8.19 10.92" stroke-dashoffset="24.44"/></g>
<rect x="45.5" y="31.9" width="278.70" height="435.00" fill="none" stroke="#262626" stroke-width="1.7"/>
<line x1="38.4" y1="47.80" x2="45.5" y2="47.80" stroke="#383838" stroke-width="1.15"/>
<g transform="translate(32.50,50.74) rotate(-90) scale(1,1.025)"><path d="M359,0 L359,712 L290,712 C265,640 200,540 110,510 L110,445 C180,470 240,510 273,548 L273,0 Z" transform="translate(-8.12,0) scale(0.0146,-0.0146)"/><text x="0.00" y="0" font-size="14.6">4</text></g>
<line x1="38.4" y1="148.58" x2="45.5" y2="148.58" stroke="#383838" stroke-width="1.15"/>
<g transform="translate(32.50,147.54) rotate(-90) scale(1,1.025)"><path d="M359,0 L359,712 L290,712 C265,640 200,540 110,510 L110,445 C180,470 240,510 273,548 L273,0 Z" transform="translate(-8.12,0) scale(0.0146,-0.0146)"/><text x="0.00" y="0" font-size="14.6">3</text></g>
<line x1="38.4" y1="249.36" x2="45.5" y2="249.36" stroke="#383838" stroke-width="1.15"/>
<g transform="translate(32.50,250.14) rotate(-90) scale(1,1.025)"><path d="M359,0 L359,712 L290,712 C265,640 200,540 110,510 L110,445 C180,470 240,510 273,548 L273,0 Z" transform="translate(-8.12,0) scale(0.0146,-0.0146)"/><text x="0.00" y="0" font-size="14.6">2</text></g>
<line x1="38.4" y1="350.14" x2="45.5" y2="350.14" stroke="#383838" stroke-width="1.15"/>
<g transform="translate(32.50,349.10) rotate(-90) scale(1,1.025)"><path d="M359,0 L359,712 L290,712 C265,640 200,540 110,510 L110,445 C180,470 240,510 273,548 L273,0 Z" transform="translate(-8.12,0) scale(0.0146,-0.0146)"/><path d="M359,0 L359,712 L290,712 C265,640 200,540 110,510 L110,445 C180,470 240,510 273,548 L273,0 Z" transform="translate(0.00,0) scale(0.0146,-0.0146)"/></g>
<line x1="38.4" y1="450.92" x2="45.5" y2="450.92" stroke="#383838" stroke-width="1.15"/>
<g transform="translate(32.50,450.00) rotate(-90) scale(1,1.025)"><path d="M359,0 L359,712 L290,712 C265,640 200,540 110,510 L110,445 C180,470 240,510 273,548 L273,0 Z" transform="translate(-8.12,0) scale(0.0146,-0.0146)"/><text x="0.00" y="0" font-size="14.6">0</text></g>
<line x1="55.50" y1="466.9" x2="55.50" y2="473.9" stroke="#2a2a2a" stroke-width="1.2"/>
<g transform="translate(57.10,493.50) scale(1,1.025)"><text x="-6.49" y="0" font-size="14.6">-</text><path d="M359,0 L359,712 L290,712 C265,640 200,540 110,510 L110,445 C180,470 240,510 273,548 L273,0 Z" transform="translate(-1.63,0) scale(0.0146,-0.0146)"/></g>
<line x1="98.50" y1="466.9" x2="98.50" y2="473.9" stroke="#2a2a2a" stroke-width="1.2"/>
<g transform="translate(93.60,493.50) scale(1,1.025)"><text x="-4.06" y="0" font-size="14.6">0</text></g>
<line x1="141.50" y1="466.9" x2="141.50" y2="473.9" stroke="#2a2a2a" stroke-width="1.2"/>
<g transform="translate(141.00,493.50) scale(1,1.025)"><path d="M359,0 L359,712 L290,712 C265,640 200,540 110,510 L110,445 C180,470 240,510 273,548 L273,0 Z" transform="translate(-4.06,0) scale(0.0146,-0.0146)"/></g>
<line x1="184.50" y1="466.9" x2="184.50" y2="473.9" stroke="#2a2a2a" stroke-width="1.2"/>
<g transform="translate(184.95,493.50) scale(1,1.025)"><text x="-4.06" y="0" font-size="14.6">2</text></g>
<line x1="227.50" y1="466.9" x2="227.50" y2="473.9" stroke="#2a2a2a" stroke-width="1.2"/>
<g transform="translate(226.75,493.50) scale(1,1.025)"><text x="-4.06" y="0" font-size="14.6">3</text></g>
<line x1="270.50" y1="466.9" x2="270.50" y2="473.9" stroke="#2a2a2a" stroke-width="1.2"/>
<g transform="translate(269.75,493.50) scale(1,1.025)"><text x="-4.06" y="0" font-size="14.6">4</text></g>
<line x1="313.50" y1="466.9" x2="313.50" y2="473.9" stroke="#2a2a2a" stroke-width="1.2"/>
<g transform="translate(312.70,493.50) scale(1,1.025)"><text x="-4.06" y="0" font-size="14.6">5</text></g>
<text x="183.2" y="526" text-anchor="middle" font-size="14.6">Time (years)</text>
<text x="0" y="0" transform="translate(11.2,233.85) rotate(-90)" text-anchor="middle" font-size="14.6">Chlamydia prevalence (%)</text>
<rect x="405.5" y="31.9" width="278.70" height="435.00" fill="none" stroke="#262626" stroke-width="1.7"/>
<line x1="398.4" y1="47.80" x2="405.5" y2="47.80" stroke="#383838" stroke-width="1.15"/>
<g transform="translate(392.50,50.34) rotate(-90) scale(1,1.025)"><path d="M359,0 L359,712 L290,712 C265,640 200,540 110,510 L110,445 C180,470 240,510 273,548 L273,0 Z" transform="translate(-8.12,0) scale(0.0146,-0.0146)"/><text x="0.00" y="0" font-size="14.6">4</text></g>
<line x1="398.4" y1="148.58" x2="405.5" y2="148.58" stroke="#383838" stroke-width="1.15"/>
<g transform="translate(392.50,147.14) rotate(-90) scale(1,1.025)"><path d="M359,0 L359,712 L290,712 C265,640 200,540 110,510 L110,445 C180,470 240,510 273,548 L273,0 Z" transform="translate(-8.12,0) scale(0.0146,-0.0146)"/><text x="0.00" y="0" font-size="14.6">3</text></g>
<line x1="398.4" y1="249.36" x2="405.5" y2="249.36" stroke="#383838" stroke-width="1.15"/>
<g transform="translate(392.50,249.74) rotate(-90) scale(1,1.025)"><path d="M359,0 L359,712 L290,712 C265,640 200,540 110,510 L110,445 C180,470 240,510 273,548 L273,0 Z" transform="translate(-8.12,0) scale(0.0146,-0.0146)"/><text x="0.00" y="0" font-size="14.6">2</text></g>
<line x1="398.4" y1="350.14" x2="405.5" y2="350.14" stroke="#383838" stroke-width="1.15"/>
<g transform="translate(392.50,348.70) rotate(-90) scale(1,1.025)"><path d="M359,0 L359,712 L290,712 C265,640 200,540 110,510 L110,445 C180,470 240,510 273,548 L273,0 Z" transform="translate(-8.12,0) scale(0.0146,-0.0146)"/><path d="M359,0 L359,712 L290,712 C265,640 200,540 110,510 L110,445 C180,470 240,510 273,548 L273,0 Z" transform="translate(0.00,0) scale(0.0146,-0.0146)"/></g>
<line x1="398.4" y1="450.92" x2="405.5" y2="450.92" stroke="#383838" stroke-width="1.15"/>
<g transform="translate(392.50,449.60) rotate(-90) scale(1,1.025)"><path d="M359,0 L359,712 L290,712 C265,640 200,540 110,510 L110,445 C180,470 240,510 273,548 L273,0 Z" transform="translate(-8.12,0) scale(0.0146,-0.0146)"/><text x="0.00" y="0" font-size="14.6">0</text></g>
<line x1="415.50" y1="466.9" x2="415.50" y2="473.9" stroke="#2a2a2a" stroke-width="1.2"/>
<g transform="translate(416.80,492.40) scale(1,1.025)"><text x="-6.49" y="0" font-size="14.6">-</text><path d="M359,0 L359,712 L290,712 C265,640 200,540 110,510 L110,445 C180,470 240,510 273,548 L273,0 Z" transform="translate(-1.63,0) scale(0.0146,-0.0146)"/></g>
<line x1="458.50" y1="466.9" x2="458.50" y2="473.9" stroke="#2a2a2a" stroke-width="1.2"/>
<g transform="translate(453.30,492.40) scale(1,1.025)"><text x="-4.06" y="0" font-size="14.6">0</text></g>
<line x1="501.50" y1="466.9" x2="501.50" y2="473.9" stroke="#2a2a2a" stroke-width="1.2"/>
<g transform="translate(500.70,492.40) scale(1,1.025)"><path d="M359,0 L359,712 L290,712 C265,640 200,540 110,510 L110,445 C180,470 240,510 273,548 L273,0 Z" transform="translate(-4.06,0) scale(0.0146,-0.0146)"/></g>
<line x1="544.50" y1="466.9" x2="544.50" y2="473.9" stroke="#2a2a2a" stroke-width="1.2"/>
<g transform="translate(544.65,492.40) scale(1,1.025)"><text x="-4.06" y="0" font-size="14.6">2</text></g>
<line x1="587.50" y1="466.9" x2="587.50" y2="473.9" stroke="#2a2a2a" stroke-width="1.2"/>
<g transform="translate(586.45,492.40) scale(1,1.025)"><text x="-4.06" y="0" font-size="14.6">3</text></g>
<line x1="630.50" y1="466.9" x2="630.50" y2="473.9" stroke="#2a2a2a" stroke-width="1.2"/>
<g transform="translate(629.45,492.40) scale(1,1.025)"><text x="-4.06" y="0" font-size="14.6">4</text></g>
<line x1="673.50" y1="466.9" x2="673.50" y2="473.9" stroke="#2a2a2a" stroke-width="1.2"/>
<g transform="translate(672.40,492.40) scale(1,1.025)"><text x="-4.06" y="0" font-size="14.6">5</text></g>
<text x="542.7" y="524.9" text-anchor="middle" font-size="14.6">Time (years)</text>
<text x="0" y="0" transform="translate(371.2,233.04999999999998) rotate(-90)" text-anchor="middle" font-size="14.6">Chlamydia prevalence (%)</text>
<line x1="53.5" y1="342.90" x2="70.5" y2="342.90" stroke="#000" stroke-width="2.73" stroke-linecap="round"/>
<text x="78.45" y="347.80" font-size="12.7">Baseline</text>
<line x1="53.5" y1="361.77" x2="70.5" y2="361.77" stroke="#cacaca" stroke-width="2.73" stroke-linecap="round"/>
<text x="78.45" y="366.40" font-size="12.7">Condom promotion SHC - ND</text>
<line x1="53.5" y1="380.64" x2="70.5" y2="380.64" stroke="#979797" stroke-width="2.73" stroke-linecap="round"/>
<text x="78.45" y="385.00" font-size="12.7">Impulsiveness intervention SHC - ND</text>
<line x1="53.5" y1="399.51" x2="70.5" y2="399.51" stroke="#5f5f5f" stroke-width="2.73" stroke-linecap="round"/>
<text x="78.45" y="403.60" font-size="12.7">Condom promotion campaign - ND</text>
<line x1="52.1" y1="418.38" x2="58.8" y2="418.38" stroke="#cacaca" stroke-width="2.9" stroke-linecap="butt"/>
<line x1="65.2" y1="418.38" x2="71.7" y2="418.38" stroke="#cacaca" stroke-width="2.9" stroke-linecap="butt"/>
<text x="78.45" y="422.20" font-size="12.7">Condom promotion SHC - D</text>
<line x1="52.1" y1="437.25" x2="58.8" y2="437.25" stroke="#979797" stroke-width="2.9" stroke-linecap="butt"/>
<line x1="65.2" y1="437.25" x2="71.7" y2="437.25" stroke="#979797" stroke-width="2.9" stroke-linecap="butt"/>
<text x="78.45" y="440.80" font-size="12.7">Impulsiveness intervention SHC - D</text>
<line x1="52.1" y1="456.12" x2="58.8" y2="456.12" stroke="#5f5f5f" stroke-width="2.9" stroke-linecap="butt"/>
<line x1="65.2" y1="456.12" x2="71.7" y2="456.12" stroke="#5f5f5f" stroke-width="2.9" stroke-linecap="butt"/>
<text x="78.45" y="459.40" font-size="12.7">Condom promotion campaign - D</text>
<line x1="413.5" y1="375.00" x2="430.5" y2="375.00" stroke="#000" stroke-width="2.73" stroke-linecap="round"/>
<text x="438.45" y="379.50" font-size="12.7">Baseline</text>
<circle cx="413.6" cy="394.00" r="1.65" fill="#cacaca"/>
<line x1="424.4" y1="394.00" x2="430.6" y2="394.00" stroke="#cacaca" stroke-width="2.73" stroke-linecap="round"/>
<text x="438.45" y="398.18" font-size="12.7">Condom promotion SHC CT+</text>
<circle cx="413.6" cy="413.00" r="1.65" fill="#979797"/>
<circle cx="424.3" cy="413.00" r="1.65" fill="#979797"/>
<text x="438.45" y="416.86" font-size="12.7">Condom promotion SHC CT−</text>
<circle cx="413.6" cy="432.00" r="1.65" fill="#000"/>
<line x1="424.4" y1="432.00" x2="430.6" y2="432.00" stroke="#000" stroke-width="2.73" stroke-linecap="round"/>
<text x="438.45" y="435.54" font-size="12.7">Impulsiveness intervention SHC CT+</text>
<circle cx="413.6" cy="451.00" r="1.65" fill="#cacaca"/>
<circle cx="424.3" cy="451.00" r="1.65" fill="#cacaca"/>
<text x="438.45" y="454.22" font-size="12.7">Impulsiveness intervention SHC CT−</text>
<text x="54.7" y="9.6" font-size="12.8" font-weight="bold" stroke="#fff" stroke-width="0.28">a. Non−differential (ND) vs. differential (D)</text>
<text x="445.1" y="9.6" font-size="12.7" font-weight="bold" stroke="#fff" stroke-width="0.28">b.</text>
<text x="458.05" y="9.6" font-size="12.6" font-weight="bold" stroke="#fff" stroke-width="0.28">Targeting CT+ vs. Targeting CT−</text>
</svg>
</body></html>
